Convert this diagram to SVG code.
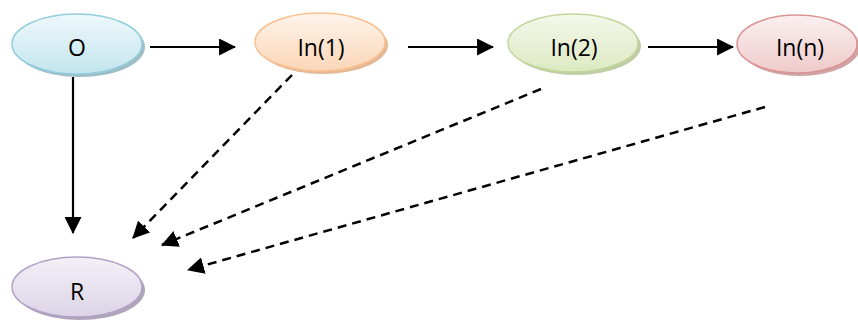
<svg xmlns="http://www.w3.org/2000/svg" width="858" height="326" viewBox="0 0 858 326">
<style>
.lbl{font-family:"Open Sans","Liberation Sans",sans-serif;font-size:23px;fill:#000;text-anchor:middle}
.solid{stroke:#000;stroke-width:2.2;fill:none}
.dash{stroke:#000;stroke-width:2.5;fill:none;stroke-dasharray:9 6}
.sh{opacity:0.9}
</style>
<defs>
<linearGradient id="gO" x1="0" y1="0" x2="0" y2="1"><stop offset="0" stop-color="#eef8fb"/><stop offset="1" stop-color="#c3e5ee"/></linearGradient>
<linearGradient id="g1" x1="0" y1="0" x2="0" y2="1"><stop offset="0" stop-color="#fef3ea"/><stop offset="1" stop-color="#fbd6b8"/></linearGradient>
<linearGradient id="g2" x1="0" y1="0" x2="0" y2="1"><stop offset="0" stop-color="#f4f8ea"/><stop offset="1" stop-color="#dde9c2"/></linearGradient>
<linearGradient id="gn" x1="0" y1="0" x2="0" y2="1"><stop offset="0" stop-color="#fbf0f0"/><stop offset="1" stop-color="#efcaca"/></linearGradient>
<linearGradient id="gR" x1="0" y1="0" x2="0" y2="1"><stop offset="0" stop-color="#f3f0f7"/><stop offset="1" stop-color="#dcd4e6"/></linearGradient>
<marker id="ah" viewBox="0 0 16 16" refX="15" refY="8" markerWidth="17" markerHeight="17" markerUnits="userSpaceOnUse" orient="auto"><path d="M0,0 L16,8 L0,16 Z" fill="#000"/></marker>
</defs>
<g id="connectors">
<line class="solid" x1="150" y1="47" x2="235" y2="47" marker-end="url(#ah)"/>
<line class="solid" x1="408" y1="47" x2="493" y2="47" marker-end="url(#ah)"/>
<line class="solid" x1="648" y1="47" x2="733" y2="47" marker-end="url(#ah)"/>
<line class="solid" x1="73" y1="77" x2="73" y2="233" marker-end="url(#ah)"/>
<line class="dash" x1="292" y1="75" x2="133" y2="238" marker-end="url(#ah)"/>
<line class="dash" x1="541" y1="89" x2="162" y2="245" marker-end="url(#ah)"/>
<line class="dash" x1="765" y1="107" x2="188" y2="270" marker-end="url(#ah)"/>
</g>
<g id="node-O">
<ellipse cx="80" cy="47" rx="65" ry="30" fill="#93b7c0" class="sh"/>
<ellipse cx="77" cy="44" rx="65" ry="30" fill="url(#gO)" stroke="#92cddc" stroke-width="1.5"/>
<text class="lbl" x="77" y="56">O</text>
</g>
<g id="node-In1">
<ellipse cx="323" cy="45" rx="65" ry="29" fill="#e1b08a" class="sh"/>
<ellipse cx="320" cy="42" rx="65" ry="29" fill="url(#g1)" stroke="#fabf8f" stroke-width="1.5"/>
<text class="lbl" x="321" y="56">In(1)</text>
</g>
<g id="node-In2">
<ellipse cx="576" cy="46" rx="65" ry="29" fill="#b8c79a" class="sh"/>
<ellipse cx="573" cy="43" rx="65" ry="29" fill="url(#g2)" stroke="#c2d69b" stroke-width="1.5"/>
<text class="lbl" x="574" y="56">In(2)</text>
</g>
<g id="node-Inn">
<ellipse cx="800" cy="47" rx="60" ry="29" fill="#c99a9a" class="sh"/>
<ellipse cx="797" cy="44" rx="60" ry="29" fill="url(#gn)" stroke="#d99594" stroke-width="1.5"/>
<text class="lbl" x="800" y="56">In(n)</text>
</g>
<g id="node-R">
<ellipse cx="80" cy="290" rx="65" ry="30" fill="#a69bb2" class="sh"/>
<ellipse cx="77" cy="287" rx="65" ry="30" fill="url(#gR)" stroke="#b2a1c7" stroke-width="1.5"/>
<text class="lbl" x="77" y="300">R</text>
</g>
</svg>
